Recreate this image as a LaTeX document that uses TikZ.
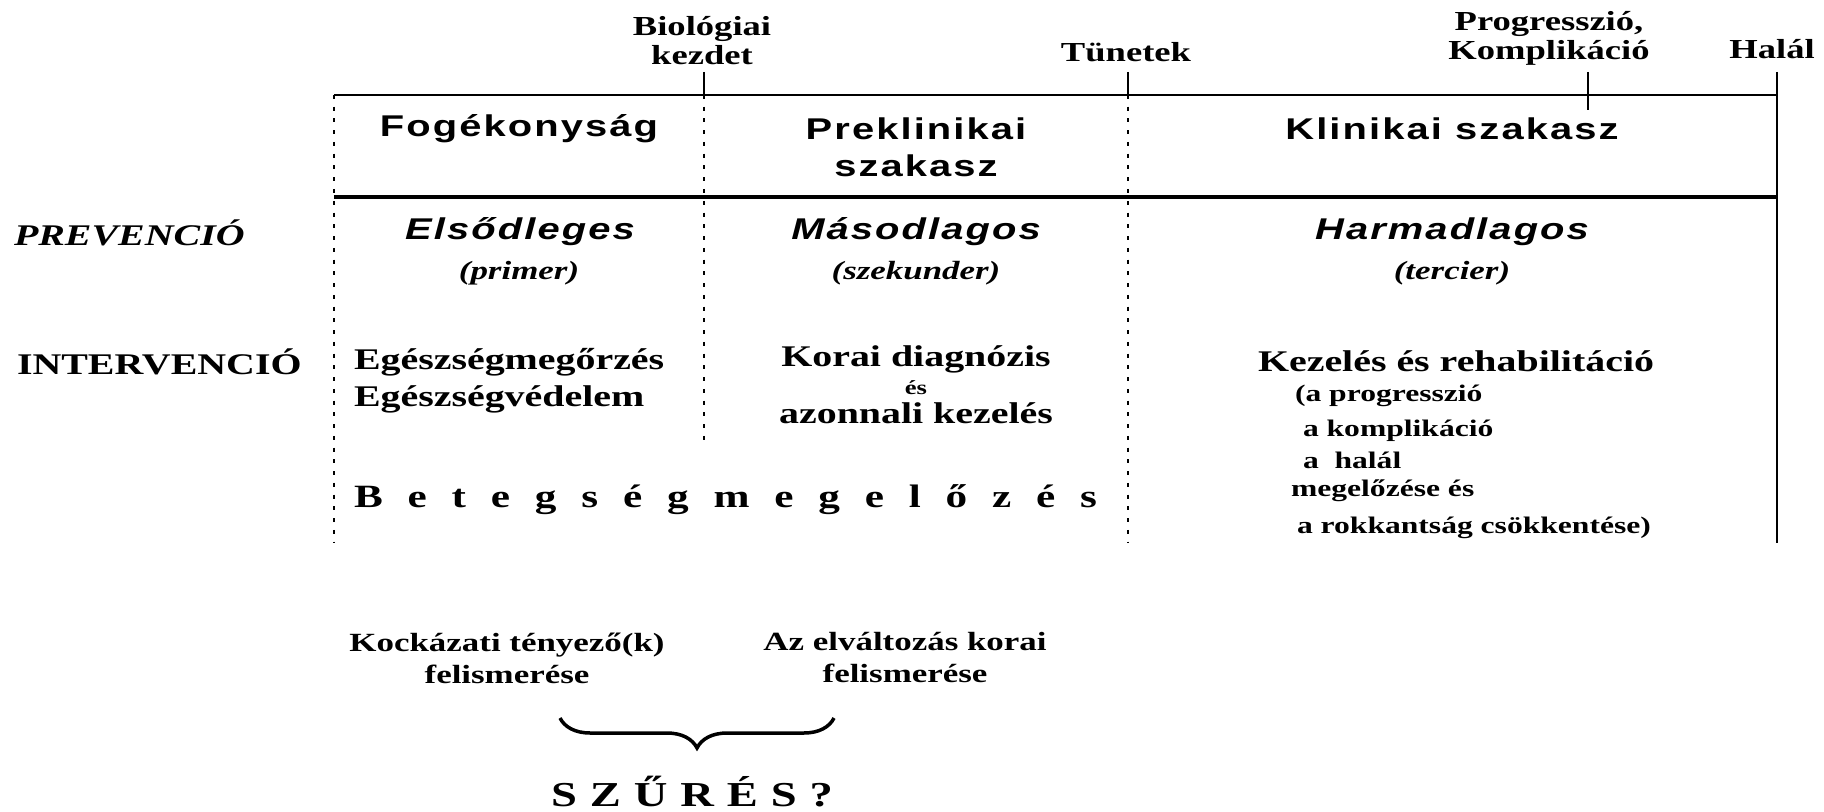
\documentclass[tikz,border=0pt]{standalone}
\usepackage{fontspec}
\setmainfont{Liberation Serif}[FakeStretch=1.33]
\setsansfont{Liberation Sans}[FakeStretch=1.33,LetterSpace=7]
\usetikzlibrary{decorations.pathreplacing}
\begin{document}
\begin{tikzpicture}[x=0.4pt,y=-0.4pt,
  every node/.style={inner sep=0pt,outer sep=0pt},
  toplbl/.style={font={\fontsize{11}{11.6}\selectfont\bfseries},align=center},
  head/.style={font={\fontsize{12}{14.8}\selectfont\sffamily\bfseries},align=center},
  prevhead/.style={font={\fontsize{12}{14}\selectfont\sffamily\bfseries\itshape},align=center},
  prevsub/.style={font={\fontsize{10.5}{12}\selectfont\bfseries\itshape},align=center},
  sidelbl/.style={font={\fontsize{12}{14}\selectfont\bfseries\itshape},anchor=west},
  interv/.style={font={\fontsize{12}{14}\selectfont\bfseries}},
  subl/.style={font={\fontsize{9.5}{11}\selectfont\bfseries},anchor=west},
  botl/.style={font={\fontsize{10.5}{12.8}\selectfont\bfseries},align=center},
  thin/.style={line width=0.8pt},
  thick/.style={line width=1.5pt},
  dotline/.style={line width=1.1pt,dash pattern=on 1.6pt off 3.1pt},
  tick/.style={line width=0.7pt}
]
\useasboundingbox (0,0) rectangle (1824,812);

% coordinates
\coordinate (tl) at (334,95);
\coordinate (tr) at (1777,95);
\coordinate (hl) at (334,197);
\coordinate (hr) at (1777,197);
\coordinate (rtop) at (1777,72);
\coordinate (rbot) at (1777,543);
\coordinate (lbot) at (334,543);
\coordinate (btop) at (704,95);
\coordinate (bbot) at (704,447);
\coordinate (bt) at (704,72);
\coordinate (ttop) at (1128,95);
\coordinate (tt) at (1128,72);
\coordinate (tbot) at (1128,543);
\coordinate (pt) at (1588,72);
\coordinate (pb) at (1588,110);
\coordinate (brl) at (560,718);
\coordinate (brr) at (834,718);

% lines
\draw[thin] (tl) -- (tr);
\draw[thick] (hl) -- (hr);
\draw[thin] (rtop) -- (rbot);
\draw[dotline] (tl) -- (lbot);
\draw[dotline] (btop) -- (bbot);
\draw[dotline] (ttop) -- (tbot);
\draw[tick] (bt) -- (btop);
\draw[tick] (tt) -- (ttop);
\draw[tick] (pt) -- (pb);

% top labels
\node[toplbl] (bio) at (702,41) {Biológiai\\kezdet};
\node[toplbl] (tun) at (1126,52) {Tünetek};
\node[toplbl] (prog) at (1549,38) {Progresszió,\\Komplikáció};
\node[toplbl] (hal) at (1772,49) {Halál};

% header row
\node[head] (fog) at (519,129) {Fogékonyság};
\node[head] (prek) at (916,147) {Preklinikai\\szakasz};
\node[head] (klin) at (1452,129) {Klinikai szakasz};

% prevention row
\node[sidelbl] (prev) at (14,233) {PREVENCIÓ};
\node[prevhead] (els) at (520,232) {Elsődleges};
\node[prevsub] (prim) at (519,273) {(primer)};
\node[prevhead] (mas) at (916,232) {Másodlagos};
\node[prevsub] (szek) at (916,273) {(szekunder)};
\node[prevhead] (harm) at (1452,232) {Harmadlagos};
\node[prevsub] (terc) at (1452,273) {(tercier)};

% intervention row
\node[interv,anchor=west] (int) at (17,362) {INTERVENCIÓ};
\node[interv,anchor=west] (egm) at (354,362) {Egészségmegőrzés};
\node[interv,anchor=west] (egv) at (354,399) {Egészségvédelem};
\node[interv] (kor) at (916,359) {Korai diagnózis};
\node[font={\fontsize{8}{9}\selectfont\bfseries}] (es) at (916,388) {és};
\node[interv] (azo) at (916,413) {azonnali kezelés};
\node[interv] (kez) at (1456,361) {Kezelés és rehabilitáció};
\node[subl] (s1) at (1295,396) {(a progresszió};
\node[subl] (s2) at (1303,431) {a komplikáció};
\node[subl] (s3) at (1303,460) {a\ \ halál};
\node[subl] (s4) at (1291,491) {megelőzése és};
\node[subl] (s5) at (1297,528) {a rokkantság csökkentése)};

% Betegségmegelőzés
\node[anchor=west,font={\fontsize{13}{15}\selectfont\bfseries}] (beteg) at (354,500)
  {\makebox[297.2pt][s]{B\hfill e\hfill t\hfill e\hfill g\hfill s\hfill é\hfill g\hfill m\hfill e\hfill g\hfill e\hfill l\hfill ő\hfill z\hfill é\hfill s}};

% bottom
\node[botl] (kock) at (507,658) {Kockázati tényező(k)\\felismerése};
\node[botl] (elv) at (905,658) {Az elváltozás korai\\felismerése};
\draw[line width=1.4pt,decorate,decoration={brace,mirror,amplitude=12pt}] (brl) -- (brr);
\node[anchor=west,font={\fontsize{14}{16}\selectfont\bfseries}] (szur) at (551,792)
  {\makebox[112.8pt][s]{S\hfill Z\hfill Ű\hfill R\hfill É\hfill S\hfill ?}};
\end{tikzpicture}
\end{document}
